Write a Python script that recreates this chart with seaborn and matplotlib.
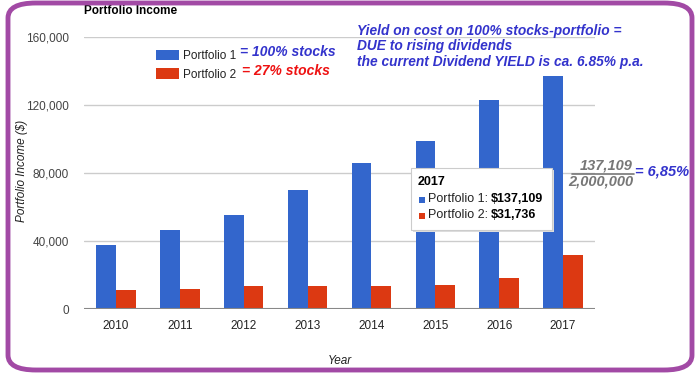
import matplotlib
matplotlib.use("Agg")
import matplotlib.pyplot as plt
import seaborn as sns
import pandas as pd
from matplotlib.patches import FancyBboxPatch, Rectangle
from matplotlib.lines import Line2D

years = ["2010", "2011", "2012", "2013", "2014", "2015", "2016", "2017"]
portfolio1 = [37600, 46500, 55300, 70000, 85900, 98800, 123000, 137109]
portfolio2 = [11200, 11700, 13500, 13800, 13300, 14000, 18500, 31736]
series_names = ["Portfolio 1", "Portfolio 2"]
yticks = [0, 40000, 80000, 120000, 160000]

df = pd.DataFrame({
    "Year": years * 2,
    "Income": portfolio1 + portfolio2,
    "Series": [series_names[0]] * len(years) + [series_names[1]] * len(years),
})

sns.set_theme(style="white")
plt.rcParams["font.family"] = ["Liberation Sans", "DejaVu Sans"]

W, H = 698, 373
def fx(x):
    return x / W
def fy(y):
    return 1 - y / H

fig = plt.figure(figsize=(6.98, 3.73), dpi=100)
ax = fig.add_axes([fx(84), fy(309), (595 - 84) / W, (309 - 37) / H])

palette = {"Portfolio 1": "#3366CC", "Portfolio 2": "#DC3912"}
sns.barplot(data=df, x="Year", y="Income", hue="Series", palette=palette,
            width=0.62, ax=ax, saturation=1, edgecolor="none", zorder=3)

FS = 8.5
ax.set_ylim(0, 160000)
ax.set_yticks(yticks)
ax.set_yticklabels([f"{v:,}" for v in yticks], color="#444444", fontsize=FS)
ax.tick_params(axis="x", colors="#222222", labelsize=FS, length=0, pad=8)
ax.tick_params(axis="y", length=0, pad=11)
for v in yticks[1:]:
    ax.axhline(v, color="#CCCCCC", lw=1, zorder=1)
ax.axhline(0, color="#888888", lw=1.5, zorder=4)
for s in ax.spines.values():
    s.set_visible(False)
ax.set_xlim(-0.5, 7.5)

ax.set_xlabel("Year", style="italic", fontsize=FS, color="#222222", va="center")
ax.xaxis.set_label_coords(0.5, -(361 - 309) / 272)
ax.set_ylabel("Portfolio Income ($)", style="italic", fontsize=FS, color="#222222")
ax.yaxis.set_label_coords(-(84 - 28) / 511, (309 - 171) / 272)

leg = ax.legend(loc="upper left", bbox_to_anchor=((151 - 84) / 511, 1 - (45 - 37) / 272),
                frameon=False, fontsize=FS, handlelength=2.0, handleheight=0.95,
                labelspacing=0.55, handletextpad=0.35, borderaxespad=0)
for t in leg.get_texts():
    t.set_color("#222222")

fig.text(fx(84), fy(11), "Portfolio Income", fontsize=FS, fontweight="bold",
         color="#000000", va="center", ha="left")

fig.text(fx(240), fy(52), "= 100% stocks", fontsize=10, fontweight="bold",
         style="italic", color="#3333CC", va="center", ha="left")
fig.text(fx(242), fy(71), "= 27% stocks", fontsize=10, fontweight="bold",
         style="italic", color="#EE1111", va="center", ha="left")

note = ("Yield on cost on 100% stocks-portfolio =\nDUE to rising dividends\n"
        "the current Dividend YIELD is ca. 6.85% p.a.")
fig.text(fx(357), fy(24), note, fontsize=9.9, fontweight="bold", style="italic",
         color="#3333CC", va="top", ha="left", linespacing=1.13)

# fraction annotation
fig.text(fx(633), fy(165), "137,109", fontsize=10.5, fontweight="bold",
         style="italic", color="#777777", ha="right", va="center")
fig.text(fx(633), fy(182), "2,000,000", fontsize=10.5, fontweight="bold",
         style="italic", color="#777777", ha="right", va="center")
fig.add_artist(Line2D([fx(572), fx(634)], [fy(174), fy(174)],
                      color="#777777", lw=1.2, transform=fig.transFigure))
fig.text(fx(635), fy(172), "= 6,85%", fontsize=10.5, fontweight="bold",
         style="italic", color="#3333CC", ha="left", va="center")

# tooltip
TF = 9.0
fig.add_artist(Rectangle((fx(413), fy(232)), 141 / W, 62 / H,
                         transform=fig.transFigure, facecolor="#DDDDDD",
                         edgecolor="none", zorder=5))
fig.add_artist(Rectangle((fx(411), fy(230)), 141 / W, 62 / H,
                         transform=fig.transFigure, facecolor="white",
                         edgecolor="#CCCCCC", lw=0.8, zorder=6))
fig.text(fx(418), fy(182), "2017", fontsize=TF, fontweight="bold",
         color="#000000", va="center", ha="left", zorder=7)
fig.add_artist(Rectangle((fx(419), fy(203)), 6 / W, 6 / H,
                         transform=fig.transFigure, facecolor="#3366CC",
                         edgecolor="none", zorder=7))
fig.add_artist(Rectangle((fx(419), fy(219)), 6 / W, 6 / H,
                         transform=fig.transFigure, facecolor="#DC3912",
                         edgecolor="none", zorder=7))
fig.text(fx(428), fy(199), "Portfolio 1:", fontsize=TF, color="#222222",
         va="center", ha="left", zorder=7)
fig.text(fx(491), fy(199), f"${portfolio1[-1]:,}", fontsize=TF, fontweight="bold",
         color="#000000", va="center", ha="left", zorder=7)
fig.text(fx(428), fy(215), "Portfolio 2:", fontsize=TF, color="#222222",
         va="center", ha="left", zorder=7)
fig.text(fx(491), fy(215), f"${portfolio2[-1]:,}", fontsize=TF, fontweight="bold",
         color="#000000", va="center", ha="left", zorder=7)

# purple rounded border
fig.add_artist(FancyBboxPatch((fx(8), fy(370)), 684 / W, 367 / H,
                              boxstyle="round,pad=0,rounding_size=0.04",
                              transform=fig.transFigure, facecolor="none",
                              edgecolor="#A24AA5", lw=3.5, zorder=10))

fig.savefig("out.png", dpi=100)
